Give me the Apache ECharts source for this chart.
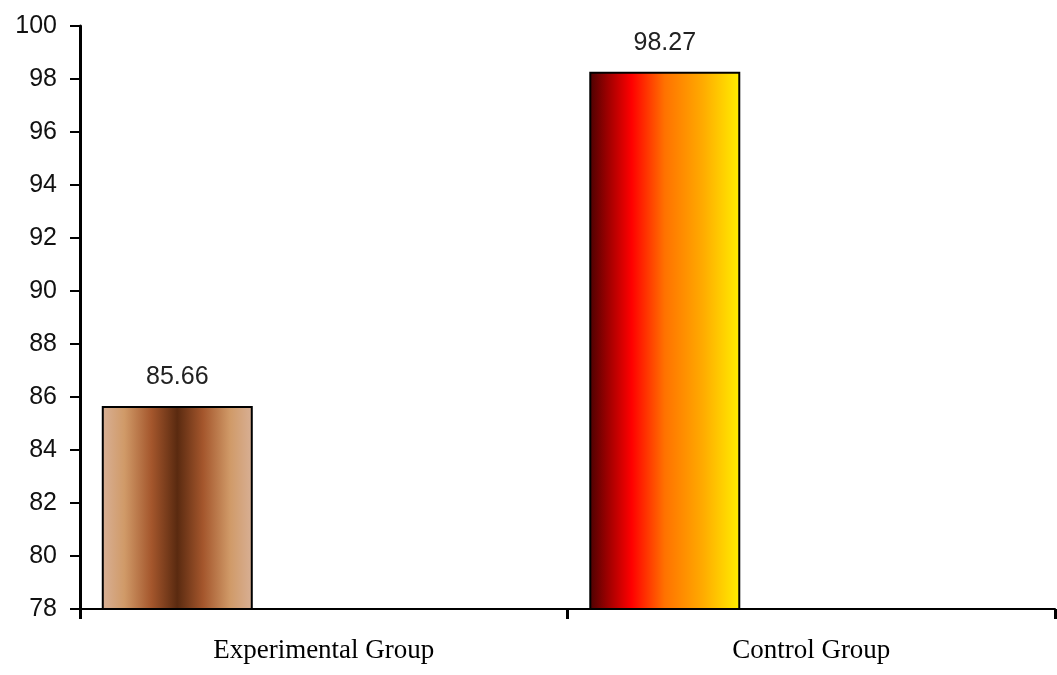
<!DOCTYPE html>
<html>
<head>
<meta charset="utf-8">
<title>Group scores</title>
<script src="https://cdn.jsdelivr.net/npm/echarts@6/dist/echarts.min.js"></script>
<style>
  html, body { margin: 0; padding: 0; background: #ffffff; }
  #chart { width: 1057px; height: 675px; }
</style>
</head>
<body>
<div id="chart"></div>
<script>
// Mean score of each group
const categories = ['Experimental Group', 'Control Group'];
const scores = [85.66, 98.27];

// Y axis range and step
const yMin = 78;
const yMax = 100;
const yStep = 2;

// Horizontal fills: copper for the experimental group, heat ramp for the control group
const copperFill = {
  type: 'linear', x: 0, y: 0, x2: 1, y2: 0,
  colorStops: [
    { offset: 0.00, color: '#d8b096' },
    { offset: 0.15, color: '#d09a68' },
    { offset: 0.33, color: '#a4562c' },
    { offset: 0.50, color: '#5a2a10' },
    { offset: 0.67, color: '#a4562c' },
    { offset: 0.85, color: '#d09a68' },
    { offset: 1.00, color: '#d8b096' }
  ]
};
const heatFill = {
  type: 'linear', x: 0, y: 0, x2: 1, y2: 0,
  colorStops: [
    { offset: 0.00, color: '#4a0202' },
    { offset: 0.12, color: '#9c0000' },
    { offset: 0.28, color: '#ff0000' },
    { offset: 0.50, color: '#ff7200' },
    { offset: 0.75, color: '#ffaa00' },
    { offset: 1.00, color: '#fff000' }
  ]
};
const fills = [copperFill, heatFill];

const chart = echarts.init(document.getElementById('chart'), null, { renderer: 'canvas' });

chart.setOption({
  animation: false,
  backgroundColor: '#ffffff',
  grid: { left: 80, right: 2, top: 26, bottom: 66, containLabel: false },
  xAxis: {
    type: 'category',
    data: categories,
    boundaryGap: true,
    axisLine: { show: true, lineStyle: { color: '#000000', width: 2 } },
    axisTick: { show: true, inside: false, length: 10, alignWithLabel: false,
                lineStyle: { color: '#000000', width: 3 } },
    axisLabel: {
      margin: 28,
      color: '#000000',
      fontFamily: '"Liberation Serif", "Times New Roman", serif',
      fontSize: 27
    },
    splitLine: { show: false }
  },
  yAxis: {
    type: 'value',
    min: yMin,
    max: yMax,
    interval: yStep,
    axisLine: { show: true, lineStyle: { color: '#000000', width: 3 } },
    axisTick: { show: true, inside: false, length: 10, lineStyle: { color: '#000000', width: 2 } },
    axisLabel: {
      margin: 23,
      color: '#111111',
      fontFamily: '"Liberation Sans", Arial, sans-serif',
      fontSize: 25
    },
    splitLine: { show: false }
  },
  series: [
    {
      type: 'bar',
      barWidth: 151,
      barGap: '94%',
      data: scores.map((v, i) => ({
        value: v,
        itemStyle: { color: fills[i], borderColor: '#000000', borderWidth: 2 }
      })),
      label: {
        show: true,
        position: 'top',
        distance: 16,
        color: '#222222',
        fontFamily: '"Liberation Sans", Arial, sans-serif',
        fontSize: 25,
        formatter: p => p.value.toFixed(2)
      }
    },
    {
      // second slot of each group is left empty
      type: 'bar',
      barWidth: 151,
      data: categories.map(() => null)
    }
  ]
});
</script>
</body>
</html>
